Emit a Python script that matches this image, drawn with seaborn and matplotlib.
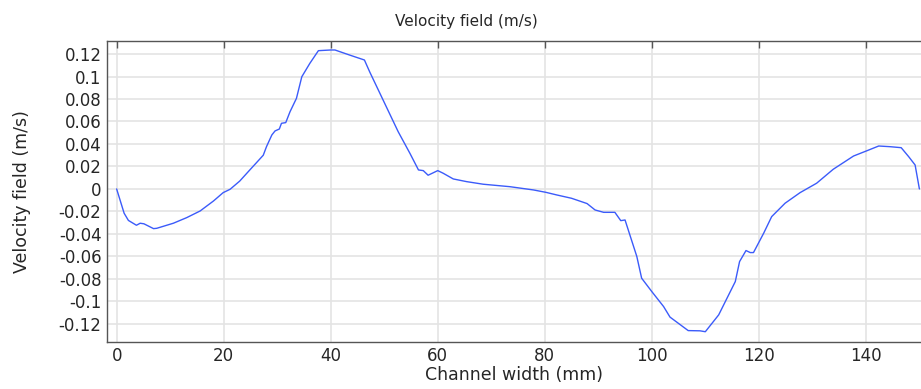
import numpy as np
import pandas as pd
import matplotlib
matplotlib.use("Agg")
import matplotlib.pyplot as plt
import seaborn as sns

# channel position (mm) and velocity (m/s)
width_mm = [0.0, 1.4, 2.2, 3.7, 4.4, 5.1, 6.9, 7.5, 10.6, 13.1, 15.6, 18.1, 19.9,
            21.2, 23.0, 24.6, 27.4, 28.0, 29.0, 29.6, 30.4, 30.8, 31.6, 32.4, 33.6,
            34.6, 36.1, 37.7, 40.0, 40.8, 43.6, 46.3, 47.3, 49.8, 52.6, 54.8, 56.4,
            57.3, 58.2, 60.0, 61.0, 62.9, 65.4, 68.5, 73.5, 77.9, 80.2, 82.2, 85.0,
            87.9, 89.4, 91.0, 93.1, 94.2, 95.0, 95.9, 97.2, 98.1, 100.0, 102.2, 103.4,
            106.8, 109.0, 110.0, 112.5, 115.6, 116.4, 117.6, 118.4, 119.0, 120.9,
            122.4, 124.9, 127.7, 130.8, 133.9, 137.7, 140.2, 142.4, 144.5, 146.6,
            148.0, 149.2, 150.0]
velocity = [0.0, -0.0216, -0.028, -0.0323, -0.0305, -0.031, -0.0353, -0.035, -0.0305,
            -0.0255, -0.0196, -0.0107, -0.0033, -0.0003, 0.007, 0.0154, 0.030, 0.0376,
            0.048, 0.0516, 0.0533, 0.0584, 0.059, 0.0687, 0.0806, 0.0998, 0.1117,
            0.123, 0.1236, 0.1236, 0.119, 0.1147, 0.104, 0.079, 0.051, 0.0317, 0.0169,
            0.0163, 0.0122, 0.0163, 0.014, 0.0089, 0.0065, 0.0042, 0.002, -0.0009,
            -0.003, -0.0053, -0.0083, -0.013, -0.0187, -0.0208, -0.0208, -0.0282,
            -0.0276, -0.0409, -0.0601, -0.0794, -0.0913, -0.1046, -0.114, -0.126,
            -0.1262, -0.127, -0.112, -0.0824, -0.0646, -0.0548, -0.0566, -0.0566,
            -0.0394, -0.0246, -0.0127, -0.0033, 0.0051, 0.0175, 0.0293, 0.034, 0.0382,
            0.0376, 0.0367, 0.0287, 0.0213, 0.0]

x_ticks = [0, 20, 40, 60, 80, 100, 120, 140]
y_ticks = [0.12, 0.1, 0.08, 0.06, 0.04, 0.02, 0, -0.02, -0.04, -0.06, -0.08, -0.1, -0.12]
y_tick_labels = ["0.12", "0.1", "0.08", "0.06", "0.04", "0.02", "0", "-0.02", "-0.04",
                 "-0.06", "-0.08", "-0.1", "-0.12"]

df = pd.DataFrame({"width": width_mm, "velocity": velocity})

sns.set_style("white")
plt.rcParams["font.family"] = ["DejaVu Sans"]

fig = plt.figure(figsize=(9.21, 3.89), dpi=100)
ax = fig.add_axes([107 / 921, 47.5 / 389, 814 / 921, 300.5 / 389])

sns.lineplot(data=df, x="width", y="velocity", ax=ax, color="#3b5bfa", linewidth=1.0)

ax.set_xlim(-1.8, 150.3)
ax.set_ylim(-0.1357, 0.1316)
ax.set_xticks(x_ticks)
ax.set_yticks(y_ticks)
ax.set_yticklabels(y_tick_labels)
ax.grid(True, color="#e4e4e4", linewidth=1.2)
ax.set_axisbelow(True)

for side in ["left", "top", "bottom"]:
    ax.spines[side].set_color("#555555")
    ax.spines[side].set_linewidth(1.0)
ax.spines["right"].set_visible(False)

ax.tick_params(axis="both", direction="in", length=5, width=1.0, color="#555555",
               labelsize=12, top=True, pad=4)
ax.tick_params(axis="x", pad=4)

ax.set_xlabel("Channel width (mm)", fontsize=12.5, labelpad=1)
ax.set_ylabel("Velocity field (m/s)", fontsize=12.5)
ax.yaxis.set_label_coords((31 - 107) / 814, 0.5)
ax.set_title("Velocity field (m/s)", fontsize=11, x=0.441, pad=11)

fig.savefig("out.png", dpi=100)
